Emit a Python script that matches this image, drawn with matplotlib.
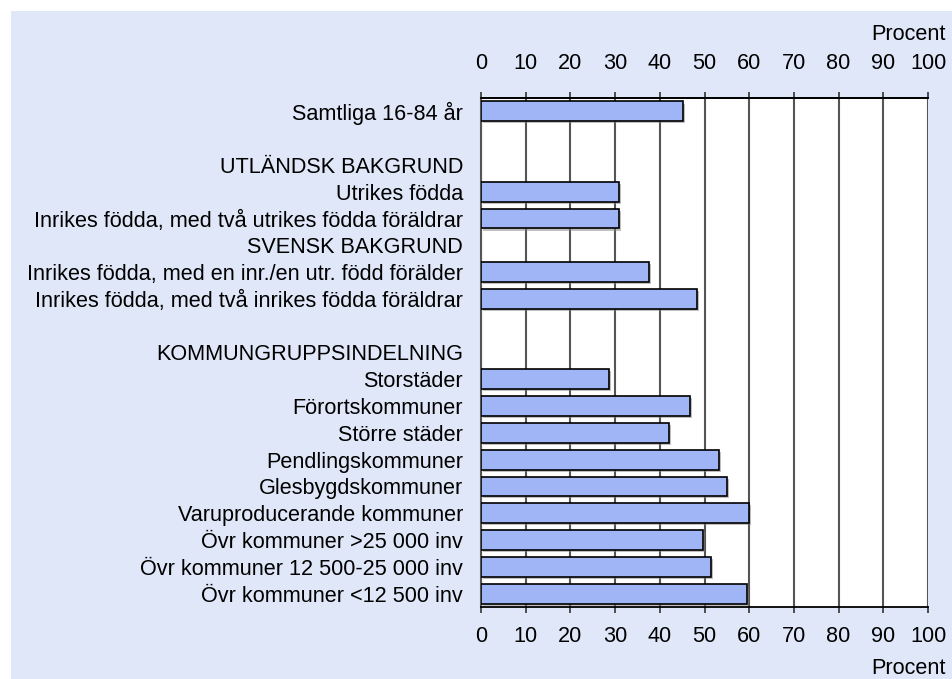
#grafica andel per grupp (procent), staplar horisontella

import matplotlib.pyplot as plt
from matplotlib.patches import Rectangle
import matplotlib.patheffects as pe

etiquetas = [
    "Samtliga 16-84 år",
    "",
    "UTLÄNDSK BAKGRUND",
    "Utrikes födda",
    "Inrikes födda, med två utrikes födda föräldrar",
    "SVENSK BAKGRUND",
    "Inrikes födda, med en inr./en utr. född förälder",
    "Inrikes födda, med två inrikes födda föräldrar",
    "",
    "KOMMUNGRUPPSINDELNING",
    "Storstäder",
    "Förortskommuner",
    "Större städer",
    "Pendlingskommuner",
    "Glesbygdskommuner",
    "Varuproducerande kommuner",
    "Övr kommuner >25 000 inv",
    "Övr kommuner 12 500-25 000 inv",
    "Övr kommuner <12 500 inv",
]

valores = [45.1, None, None, 30.9, 30.9, None, 37.5, 48.3, None, None,
           28.6, 46.8, 42.1, 53.2, 55.0, 59.9, 49.6, 51.4, 59.4]

marcas = [0, 10, 20, 30, 40, 50, 60, 70, 80, 90, 100]
unidad = "Procent"

FONDO = "#dfe7f8"
BARRA = "#a0b5f5"
TAM = 15.6


def graficar(etiquetas, valores):
    """dibuja las barras horizontales con ejes arriba y abajo"""
    plt.rcParams['font.family'] = ['Liberation Sans', 'DejaVu Sans']
    fig = plt.figure(figsize=(9.52, 6.79), dpi=100, facecolor="white")
    fig.patches.append(Rectangle((11 / 952, 0), 1, 1 - 11 / 679,
                                 transform=fig.transFigure, facecolor=FONDO,
                                 edgecolor="none", zorder=-10))

    ax = fig.add_axes([481 / 952, 1 - 607 / 679, 447 / 952, 509 / 679])
    ax.set_facecolor("white")

    pos = [i for i, v in enumerate(valores) if v is not None]
    largo = [v for v in valores if v is not None]
    barras = ax.barh(pos, largo, height=0.74, color=BARRA, edgecolor="black",
                     linewidth=1.2, zorder=3)
    for b in barras:
        b.set_path_effects([pe.SimplePatchShadow(offset=(1.5, -1.5),
                                                 shadow_rgbFace="gray", alpha=0.5),
                            pe.Normal()])

    ax.set_xlim(0, 100)
    ax.set_ylim(len(etiquetas) - 0.5, -0.5)
    ax.set_xticks(marcas)
    ax.set_yticks(range(len(etiquetas)))
    ax.set_yticklabels(etiquetas, fontsize=TAM)
    ax.tick_params(axis="y", length=0, pad=13)
    ax.tick_params(axis="x", direction="out", length=4.5, width=1.2,
                   labelsize=TAM, color="#333333", pad=9)

    # eje de arriba con las mismas marcas
    arriba = ax.secondary_xaxis("top")
    arriba.set_xticks(marcas)
    arriba.tick_params(axis="x", direction="out", length=4.5, width=1.2,
                       labelsize=TAM, color="#333333", pad=12.5)
    arriba.spines["top"].set_color("black")
    arriba.spines["top"].set_linewidth(1.3)

    ax.grid(axis="x", color="#555555", linewidth=1.5, zorder=1)
    ax.set_axisbelow(True)
    for lado in ["top", "bottom"]:
        ax.spines[lado].set_color("black")
        ax.spines[lado].set_linewidth(1.3)
    ax.spines["left"].set_color("#555555")
    ax.spines["left"].set_linewidth(1.5)
    ax.spines["right"].set_visible(False)

    fig.text(946 / 952, 1 - 34 / 679, unidad, ha="right", va="center", fontsize=TAM)
    fig.text(946 / 952, 1 - 668 / 679, unidad, ha="right", va="center", fontsize=TAM)
    return fig


if __name__ == '__main__':
    fig = graficar(etiquetas, valores)
    fig.savefig("out.png", dpi=100, facecolor=fig.get_facecolor())
